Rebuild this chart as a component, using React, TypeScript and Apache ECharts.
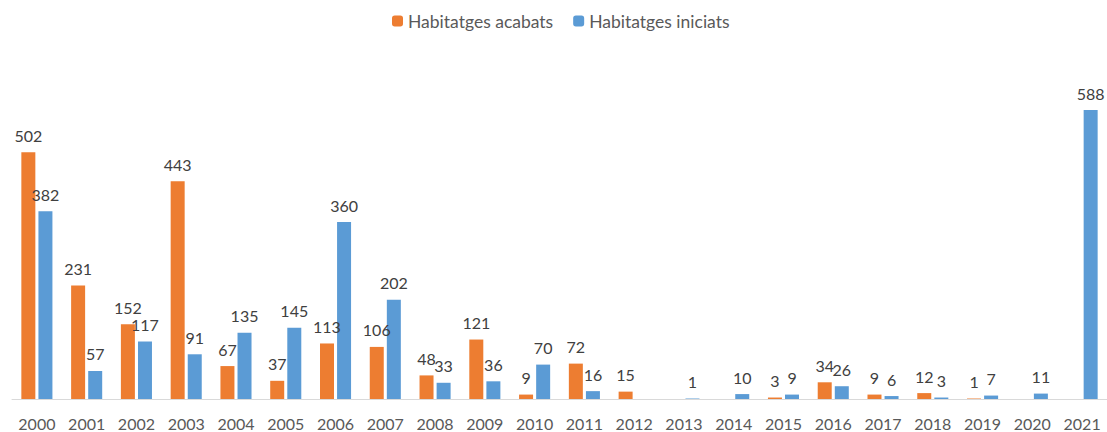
import React, { useEffect, useRef } from "react";
import * as echarts from "echarts";

const years = ["2000","2001","2002","2003","2004","2005","2006","2007","2008","2009","2010","2011","2012","2013","2014","2015","2016","2017","2018","2019","2020","2021"];
const acabats = [502, 231, 152, 443, 67, 37, 113, 106, 48, 121, 9, 72, 15, null, null, 3, 34, 9, 12, 1, null, null];
const iniciats = [382, 57, 117, 91, 135, 145, 360, 202, 33, 36, 70, 16, null, 1, 10, 9, 26, 6, 3, 7, 11, 588];

const FONT = "Lato";

export default function App() {
  const ref = useRef<HTMLDivElement>(null);
  useEffect(() => {
    if (!ref.current) return;
    const chart = echarts.init(ref.current, null, { renderer: "svg" });
    const label = {
      show: true,
      position: "top",
      distance: 9,
      color: "#404040",
      fontFamily: FONT,
      fontSize: 16,
    };
    chart.setOption({
      animation: false,
      textStyle: { fontFamily: FONT },
      legend: {
        top: 7,
        left: 387,
        itemWidth: 11,
        itemHeight: 11,
        itemGap: 20,
        textStyle: { color: "#595959", fontSize: 17.5, fontFamily: FONT, padding: [0, 0, 0, 0] },
        data: ["Habitatges acabats", "Habitatges iniciats"],
      },
      grid: { left: 12, right: 0, top: 55, bottom: 33, containLabel: false },
      xAxis: {
        type: "category",
        data: years,
        axisLine: { show: true, lineStyle: { color: "#D9D9D9", width: 1 } },
        axisTick: { show: false },
        axisLabel: { color: "#595959", fontSize: 16, fontFamily: FONT, margin: 16 },
      },
      yAxis: {
        type: "value",
        min: 0,
        max: 700,
        show: false,
        splitLine: { show: false },
      },
      series: [
        {
          name: "Habitatges acabats",
          type: "bar",
          data: acabats,
          barWidth: 14,
          barGap: "22%",
          itemStyle: { color: "#ED7D31" },
          label,
        },
        {
          name: "Habitatges iniciats",
          type: "bar",
          data: iniciats,
          barWidth: 14,
          barGap: "22%",
          itemStyle: { color: "#5B9BD5" },
          label,
        },
      ],
    });
    return () => chart.dispose();
  }, []);
  return (
    <div
      ref={ref}
      style={{ position: "absolute", left: 0, top: 0, width: 1107, height: 432, background: "#fff" }}
    />
  );
}
